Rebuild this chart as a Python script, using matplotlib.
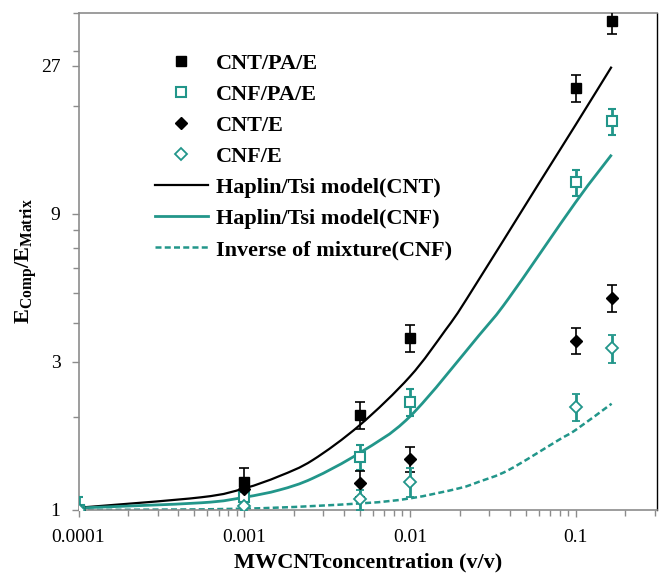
import numpy as np
import matplotlib
matplotlib.use("Agg")
import matplotlib.pyplot as plt
from matplotlib.lines import Line2D
from matplotlib.path import Path
from matplotlib.patches import PathPatch
from matplotlib.ticker import FixedLocator, LogLocator, NullFormatter, FuncFormatter

plt.rcParams['font.family'] = ['Liberation Serif', 'DejaVu Serif']
plt.rcParams['mathtext.fontset'] = 'custom'
plt.rcParams['mathtext.rm'] = 'Liberation Serif'
plt.rcParams['mathtext.bf'] = 'Liberation Serif:bold'

# ---- data ----
x_data = [0.0001, 0.001, 0.005, 0.01, 0.1, 0.165]
cnt_pa_e = [1.0, 1.233, 2.02, 3.59, 22.9, 37.7]
cnt_pa_e_err = [0.03, 0.13, 0.2, 0.36, 2.25, 3.6]
cnf_pa_e = [1.0, 1.104, 1.484, 2.23, 11.38, 17.85]
cnf_pa_e_err = [0.1, 0.05, 0.14, 0.22, 1.1, 1.75]
cnt_e = [1.0, 1.165, 1.218, 1.456, 3.51, 4.83]
cnt_e_err = [0.03, 0.05, 0.12, 0.135, 0.34, 0.48]
cnf_e = [1.0, 1.03, 1.082, 1.233, 2.15, 3.32]
cnf_e_err = [0.03, 0.04, 0.08, 0.13, 0.21, 0.34]

ht_cnt_x = [0.0001, 0.00055, 0.001, 0.00163, 0.00259, 0.005, 0.01,
            0.0164, 0.0221, 0.0599, 0.1, 0.165]
ht_cnt_y = [1.017, 1.099, 1.174, 1.286, 1.448, 1.88, 2.69,
            3.80, 4.80, 11.25, 17.4, 26.8]

ht_cnf_x = [0.0001, 0.00055, 0.001, 0.00163, 0.00259, 0.005, 0.01, 0.0261,
            0.0394, 0.1, 0.165]
ht_cnf_y = [1.015, 1.055, 1.099, 1.16, 1.265, 1.53, 2.0, 3.65,
            4.80, 9.8, 13.95]

inv_x = [0.0001, 0.001, 0.005, 0.01, 0.0197, 0.0261, 0.0394, 0.0789, 0.1, 0.165]
inv_y = [1.0, 1.01, 1.05, 1.09, 1.174, 1.233, 1.345, 1.68, 1.81, 2.20]

y_ticks = [1, 3, 9, 27]
x_tick_labels = {1e-4: '0.0001', 1e-3: '0.001', 1e-2: '0.01', 1e-1: '0.1'}

labels = ['CNT/PA/E', 'CNF/PA/E', 'CNT/E', 'CNF/E',
          'Haplin/Tsi model(CNT)', 'Haplin/Tsi model(CNF)', 'Inverse of mixture(CNF)']

# ---- styling ----
TEAL = '#22968a'
GRAY = '#8c8c8c'
DASH = (0, (2.4, 1.3))


def smooth_path(xs, ys):
    """Smoothed (Excel-like) Bezier path through the points, in log-log space."""
    lx, ly = np.log10(xs), np.log10(ys)
    n = len(lx)
    verts = [(xs[0], ys[0])]
    codes = [Path.MOVETO]
    for i in range(n - 1):
        i0, i3 = max(i - 1, 0), min(i + 2, n - 1)
        c1 = (lx[i] + (lx[i + 1] - lx[i0]) / 6, ly[i] + (ly[i + 1] - ly[i0]) / 6)
        c2 = (lx[i + 1] - (lx[i3] - lx[i]) / 6, ly[i + 1] - (ly[i3] - ly[i]) / 6)
        verts += [(10 ** c1[0], 10 ** c1[1]), (10 ** c2[0], 10 ** c2[1]), (xs[i + 1], ys[i + 1])]
        codes += [Path.CURVE4] * 3
    return Path(verts, codes)


fig = plt.figure(figsize=(6.64, 5.75), dpi=100)
ax = fig.add_axes([78.5/664, 1-510/575, (657-78.5)/664, (510-12.7)/575])

ax.set_xscale('log')
ax.set_yscale('log')
ax.set_xlim(1e-4, 0.31)
ax.set_ylim(1, 40)

ax.add_patch(PathPatch(smooth_path(ht_cnt_x, ht_cnt_y), fill=False, ec='black', lw=1.6, zorder=2))
ax.add_patch(PathPatch(smooth_path(ht_cnf_x, ht_cnf_y), fill=False, ec=TEAL, lw=2.0, zorder=2))
ax.add_patch(PathPatch(smooth_path(inv_x, inv_y), fill=False, ec=TEAL, lw=1.8,
                       ls=DASH, zorder=2))

ax.errorbar(x_data, cnt_pa_e, yerr=cnt_pa_e_err, fmt='s', color='black', ms=7,
            elinewidth=1.2, capsize=3.6, capthick=1.2, zorder=3)
ax.errorbar(x_data, cnf_pa_e, yerr=cnf_pa_e_err, fmt='s', color=TEAL, mfc='white',
            mec=TEAL, mew=1.5, ms=6.5, elinewidth=2.0, capsize=3.2, capthick=2.0, zorder=3)
ax.errorbar(x_data, cnt_e, yerr=cnt_e_err, fmt='D', color='black', ms=6.5,
            elinewidth=1.2, capsize=3.6, capthick=1.2, zorder=3)
ax.errorbar(x_data, cnf_e, yerr=cnf_e_err, fmt='D', color=TEAL, mfc='white',
            mec=TEAL, mew=1.3, ms=6.5, elinewidth=2.0, capsize=3.2, capthick=2.0, zorder=3)

ax.set_xlim(1e-4, 0.31)
ax.set_ylim(1, 40)

ax.yaxis.set_major_locator(FixedLocator(y_ticks))
ax.yaxis.set_major_formatter(FuncFormatter(lambda v, p: f'{v:g}'))
ax.yaxis.set_minor_locator(LogLocator(base=10, subs=np.arange(2, 10)))
ax.yaxis.set_minor_formatter(NullFormatter())
ax.xaxis.set_major_locator(FixedLocator(list(x_tick_labels.keys())))
ax.xaxis.set_major_formatter(FuncFormatter(lambda v, p: x_tick_labels.get(v, '')))
ax.xaxis.set_minor_locator(LogLocator(base=10, subs=np.arange(2, 10)))
ax.xaxis.set_minor_formatter(NullFormatter())

for s in ['left', 'bottom', 'top']:
    ax.spines[s].set_color(GRAY)
    ax.spines[s].set_linewidth(1.2)
ax.spines['right'].set_color('black')
ax.spines['right'].set_linewidth(1.0)

ax.tick_params(which='both', direction='out', color=GRAY, width=1.0,
               top=False, right=False, labelsize=14, labelcolor='black')
ax.tick_params(which='major', length=5)
ax.tick_params(which='minor', length=4)
ax.tick_params(axis='y', pad=8)
ax.tick_params(axis='x', pad=9)

ax.set_xlabel('MWCNTconcentration (v/v)', fontsize=16, fontweight='bold', labelpad=4)
ax.set_ylabel(r'$\mathbf{E_{Comp}/E_{Matrix}}$', fontsize=16, labelpad=1)

handles = [
    Line2D([], [], ls='none', marker='s', color='black', ms=7),
    Line2D([], [], ls='none', marker='s', mfc='white', mec=TEAL, mew=1.5, ms=6.5),
    Line2D([], [], ls='none', marker='D', color='black', ms=6.5),
    Line2D([], [], ls='none', marker='D', mfc='white', mec=TEAL, mew=1.3, ms=6.5),
    Line2D([], [], color='black', lw=1.6),
    Line2D([], [], color=TEAL, lw=2.0),
    Line2D([], [], color=TEAL, lw=1.8, ls=DASH),
]
leg = ax.legend(handles, labels, loc='upper left', bbox_to_anchor=(0.097, 0.958),
                frameon=False, prop={'family': 'Liberation Serif', 'weight': 'bold', 'size': 16},
                handlelength=2.4, handletextpad=0.35, labelspacing=0.47, borderpad=0.4)

fig.savefig('out.png', dpi=100)
